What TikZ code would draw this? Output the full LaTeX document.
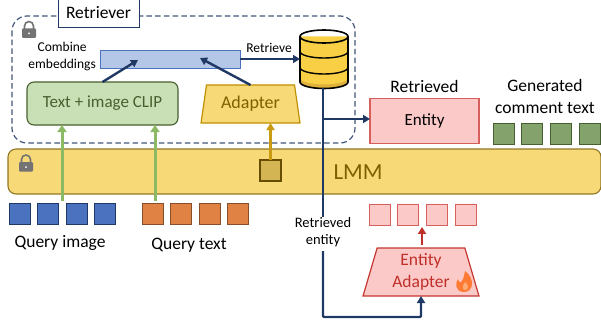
\documentclass[tikz,border=0pt]{standalone}
\usepackage{fontspec}
\setmainfont{Carlito}
\usetikzlibrary{arrows.meta,shapes.geometric}
\definecolor{navy}{HTML}{203864}
\definecolor{barfill}{HTML}{F8D978}
\definecolor{goldtext}{HTML}{7F6000}
\definecolor{goldline}{HTML}{BF9000}
\definecolor{pinkfill}{HTML}{FBC9C7}
\definecolor{pinkline}{HTML}{D8605C}
\definecolor{redtext}{HTML}{C0302A}
\definecolor{leaf}{HTML}{8CB963}
\definecolor{embedfill}{HTML}{B4C7E7}
\definecolor{clipfill}{HTML}{C9E0B6}
\definecolor{clipline}{HTML}{47602F}
\definecolor{moss}{HTML}{84A26C}
\definecolor{imgfill}{HTML}{4A72BE}
\definecolor{txtfill}{HTML}{E08244}
\definecolor{dbfill}{HTML}{F9CF45}
\definecolor{dbband}{HTML}{DDB13A}
\tikzset{
	label/.style={inner sep=0pt, font=\fontsize{17.5}{22}\selectfont, align=center},
	smalllabel/.style={inner sep=0pt, font=\fontsize{13.5}{17}\selectfont, align=center},
	cell/.style={draw=#1, minimum size=21, inner sep=0pt, outer sep=0pt, line width=1},
	trap/.style={trapezium, trapezium stretches=true, inner sep=0pt, outer sep=0pt, line width=1.2},
	flow/.style={navy, line width=2.4, -{Triangle[length=7,width=8]}},
}
\begin{document}
\begin{tikzpicture}[x=1pt, y=-1pt]
	\useasboundingbox (0,0) rectangle (601,326);

	% retriever frame
	\draw[navy!85, line width=1.2, dash pattern=on 5.5pt off 3.2pt, rounded corners=15] (12,16) rectangle (355,143);
	\node[draw=navy, fill=white, minimum width=81, minimum height=28, inner sep=0pt, font=\fontsize{17.5}{20}\selectfont, line width=0.9] (retriever) at (98.5,13) {Retriever};

	% LMM bar
	\node[draw=goldtext!85!white, fill=barfill, rounded corners=8, minimum width=593, minimum height=45, inner sep=0pt, outer sep=0pt, line width=1.1] (lmm) at (304.5,171.5) {};
	\node[text=goldtext, inner sep=0pt, font=\fontsize{23}{26}\selectfont] (lmmtext) at (358,172) {LMM};

	% locks
	\foreach \lx/\ly in {29/33, 26/166.5} {
		\draw[gray!90!black, line width=1.6] (\lx-4.5,\ly-3) -- (\lx-4.5,\ly-7) arc[start angle=180, end angle=0, x radius=4.5, y radius=-4.5] -- (\lx+4.5,\ly-3);
		\fill[gray!90!black, rounded corners=1] (\lx-7,\ly-4.5) rectangle (\lx+7,\ly+5);
		\fill[white] (\lx,\ly+0.5) circle (1);
	}

	% inside the frame
	\node[draw=imgfill, fill=embedfill, minimum width=140, minimum height=18, inner sep=0pt, outer sep=0pt, line width=1] (embed) at (170,60) {};
	\node[smalllabel, anchor=east] (combine) at (96,56.5) {Combine\\embeddings};
	\node[draw=clipline, fill=clipfill, rounded corners=7, minimum width=151, minimum height=43, inner sep=0pt, outer sep=0pt, line width=1.1, text=clipline, font=\fontsize{17}{20}\selectfont] (clip) at (102.5,103.5) {Text + image CLIP};
	\node[trap, draw=goldline, fill=barfill, minimum width=99, minimum height=38, trapezium left angle=76.7, trapezium right angle=76.7, text=goldtext, font=\fontsize{18}{21}\selectfont] (adapter) at (250.5,104) {Adapter};

	\coordinate (embedleft) at (138,60);
	\coordinate (embedright) at (200,58);
	\draw[flow] (clip.north) -- (embedleft);
	\draw[flow] (adapter.north) -- (embedright);

	% database
	\fill[dbfill] (300,36.5) -- (300,82) arc[start angle=180, end angle=360, x radius=24, y radius=-6.5] -- (348,36.5) -- cycle;
	\fill[dbband] (300,78) arc[start angle=180, end angle=360, x radius=24, y radius=-6.5] -- (348,82) arc[start angle=360, end angle=180, x radius=24, y radius=-6.5] -- cycle;
	\draw[black, line width=1.6] (300,36.5) -- (300,82) arc[start angle=180, end angle=360, x radius=24, y radius=-6.5] -- (348,36.5);
	\draw[black, line width=1.6] (324,36.5) ellipse[x radius=24, y radius=6.5];
	\draw[black, line width=1.4] (300,51.5) arc[start angle=180, end angle=360, x radius=24, y radius=-6.5];
	\draw[black, line width=1.4] (300,67.5) arc[start angle=180, end angle=360, x radius=24, y radius=-6.5];
	\node[inner sep=0pt, outer sep=0pt, minimum width=48, minimum height=58] (store) at (324,59) {};

	\draw[flow] (240,59) -- (store.west |- 240,59);
	\node[smalllabel] (retrieve) at (269,48) {Retrieve};

	% retrieved entity
	\node[draw=pinkline, fill=pinkfill, minimum width=109, minimum height=45, inner sep=0pt, outer sep=0pt, line width=1.1, font=\fontsize{17}{20}\selectfont] (entity) at (424.5,121) {Entity};
	\node[label] (retrieved) at (424.5,86) {Retrieved};
	\node[label] (generated) at (545,96) {Generated\\comment text};

	\foreach \cx [count=\i] in {503.5,531.5,560.5,589.5} {
		\node[cell=clipline, fill=moss] (gen\i) at (\cx,133.5) {};
	}
	\foreach \cx [count=\i] in {19.5,47.5,76.5,104.5} {
		\node[cell=navy, fill=imgfill] (img\i) at (\cx,213.5) {};
	}
	\foreach \cx [count=\i] in {152.5,180.5,209.5,237.5} {
		\node[cell=txtfill!60!black, fill=txtfill] (txt\i) at (\cx,213.5) {};
	}
	\foreach \cx [count=\i] in {379.5,407.5,436.5,465.5} {
		\node[cell=pinkline, fill=pinkfill] (ent\i) at (\cx,214.5) {};
	}

	\node[label] (queryimg) at (60,243) {Query image};
	\node[label] (querytxt) at (189,245) {Query text};

	% entity adapter
	\node[trap, draw=redtext!85!pinkline, fill=pinkfill, minimum width=116, minimum height=48, trapezium left angle=76, trapezium right angle=76, text=redtext, align=center, font=\fontsize{17.5}{22}\selectfont] (entadapter) at (421,272) {Entity\\Adapter};
	\fill[orange!70!red!80!white] (465,271) .. controls (475,278) and (474,292) .. (464,292) .. controls (455,292) and (455,283) .. (458,279) .. controls (459,282) and (460,283) .. (461,282) .. controls (464,279) and (464,275) .. (465,271) -- cycle;
	\fill[pinkfill!60!orange] (465,282) .. controls (469,285) and (469,290) .. (465,290) .. controls (462,290) and (462,286) .. (465,282) -- cycle;

	% connectors
	\node[draw=goldtext!80!black, fill=barfill!70!goldtext, minimum size=21, inner sep=0pt, outer sep=0pt, line width=1.1] (lmmcell) at (270.5,170.5) {};
	\draw[goldline!85!barfill, line width=2.2, -{Triangle[length=7,width=8]}] (lmmcell.north) -- (adapter.south -| lmmcell.north);
	\coordinate (imgin) at (62,201);
	\coordinate (txtin) at (155,201);
	\draw[leaf, line width=3, -{Triangle[length=7,width=9]}] (imgin) -- (imgin |- clip.south);
	\draw[leaf, line width=3, -{Triangle[length=7,width=9]}] (txtin) -- (txtin |- clip.south);

	\node[smalllabel, font=\fontsize{14.5}{17}\selectfont] (retrent) at (323,232) {Retrieved\\entity};
	\draw[navy, line width=2.4] (store.south -| 323,0) -- (retrent.north -| 323,0);
	\coordinate (branch) at (323,119);
	\draw[flow] (branch) -- (entity.west |- branch);
	\draw[flow, rounded corners=1] (323,251) -- (323,317) -- (421,317) -- (entadapter.south);
	\draw[redtext, line width=2.2, -{Triangle[length=7,width=8]}] (entadapter.north) ++(1,-3) -- ++(0,-18);
\end{tikzpicture}
\end{document}
